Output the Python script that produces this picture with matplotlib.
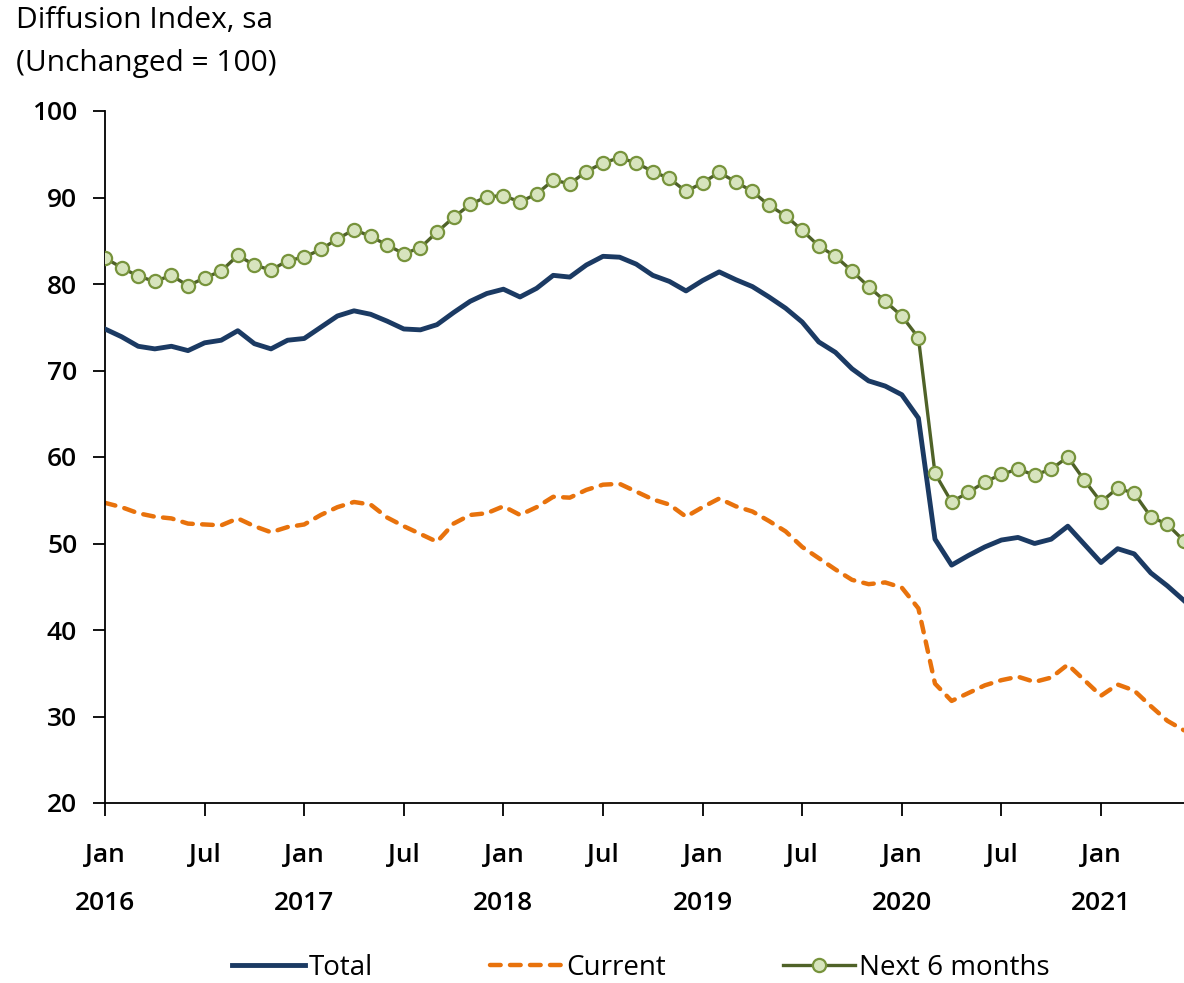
import numpy as np
import matplotlib
matplotlib.use('Agg')
import matplotlib.pyplot as plt

plt.rcParams['font.family'] = ['Open Sans', 'DejaVu Sans']

# месяцы: Jan 2016 .. Jun 2021
months = ['Jan', 'Feb', 'Mar', 'Apr', 'May', 'Jun', 'Jul', 'Aug', 'Sep', 'Oct', 'Nov', 'Dec']
years = [2016, 2017, 2018, 2019, 2020, 2021]

total = [74.8, 73.9, 72.8, 72.5, 72.8, 72.3, 73.2, 73.5, 74.6, 73.1, 72.5, 73.5,
         73.7, 75.0, 76.3, 76.9, 76.5, 75.7, 74.8, 74.7, 75.3, 76.7, 78.0, 78.9,
         79.4, 78.5, 79.5, 81.0, 80.8, 82.2, 83.2, 83.1, 82.3, 81.0, 80.3, 79.2,
         80.4, 81.4, 80.5, 79.7, 78.5, 77.2, 75.6, 73.3, 72.1, 70.2, 68.8, 68.2,
         67.2, 64.5, 50.5, 47.5, 48.6, 49.6, 50.4, 50.7, 50.0, 50.5, 52.0, 49.9,
         47.8, 49.4, 48.8, 46.6, 45.1, 43.4]

current = [54.7, 54.2, 53.5, 53.1, 52.9, 52.3, 52.2, 52.1, 52.9, 52.0, 51.3, 51.9,
           52.2, 53.3, 54.2, 54.8, 54.5, 53.0, 52.0, 51.1, 50.2, 52.3, 53.3, 53.5,
           54.3, 53.3, 54.2, 55.4, 55.3, 56.2, 56.8, 56.9, 56.0, 55.1, 54.5, 53.1,
           54.2, 55.2, 54.3, 53.7, 52.6, 51.4, 49.6, 48.3, 47.0, 45.8, 45.3, 45.5,
           44.9, 42.5, 33.8, 31.8, 32.7, 33.6, 34.2, 34.6, 34.0, 34.5, 36.0, 34.2,
           32.4, 33.7, 33.0, 31.2, 29.5, 28.4]

next6 = [83.0, 81.9, 80.9, 80.3, 81.0, 79.8, 80.7, 81.5, 83.3, 82.2, 81.6, 82.7,
         83.1, 84.0, 85.2, 86.3, 85.5, 84.5, 83.5, 84.2, 86.0, 87.7, 89.2, 90.1,
         90.2, 89.5, 90.4, 92.0, 91.6, 93.0, 94.0, 94.6, 94.0, 93.0, 92.2, 90.7,
         91.7, 92.9, 91.8, 90.7, 89.1, 87.9, 86.2, 84.4, 83.2, 81.5, 79.7, 78.0,
         76.3, 73.8, 58.1, 54.8, 55.9, 57.1, 58.0, 58.6, 57.9, 58.6, 60.0, 57.3,
         54.8, 56.4, 55.8, 53.1, 52.2, 50.3]

x = np.arange(len(total))

tick_pos = np.arange(0, len(total), 6)
tick_lab = []
for p in tick_pos:
    m = months[p % 12]
    if p % 12 == 0:
        tick_lab.append(f'{m}\n{years[p // 12]}')
    else:
        tick_lab.append(f'{m}\n')

fig = plt.figure(figsize=(11.84, 9.83), dpi=100)
ax = fig.add_axes([105 / 1184, 180 / 983, 1079 / 1184, 692 / 983])

ax.plot(x, total, color='#1b3a63', lw=3.5, label='Total', zorder=3)
ax.plot(x, current, color='#e8720c', lw=3.2, dashes=(2.4, 2.1),
        dash_capstyle='round', label='Current', zorder=2)
ax.plot(x, next6, color='#4f6228', lw=2.4, marker='o', markersize=9.5,
        markerfacecolor='#d7e4bd', markeredgecolor='#77933c', markeredgewidth=1.6,
        label='Next 6 months', zorder=4)

ax.set_xlim(0, 65)
ax.set_ylim(20, 100)
ax.set_yticks(np.arange(20, 101, 10))
ax.set_xticks(tick_pos)
ax.set_xticklabels(tick_lab, linespacing=2.2)

for s in ['top', 'right']:
    ax.spines[s].set_visible(False)
for s in ['left', 'bottom']:
    ax.spines[s].set_linewidth(1.3)
    ax.spines[s].set_color('black')

ax.tick_params(axis='y', length=9, width=1.3, labelsize=19, pad=11)
ax.tick_params(axis='x', length=9, width=1.3, labelsize=19, pad=20)
for lab in ax.get_yticklabels() + ax.get_xticklabels():
    lab.set_fontweight('semibold')

fig.text(16 / 1184, 1 - 21 / 983, 'Diffusion Index, sa', fontsize=21.5, va='center', ha='left')
fig.text(16 / 1184, 1 - 63 / 983, '(Unchanged = 100)', fontsize=21.5, va='center', ha='left')

ax.legend(loc='center', bbox_to_anchor=(641 / 1184, 1 - 968 / 983),
          bbox_transform=fig.transFigure, ncol=3, frameon=False, fontsize=20,
          handlelength=2.6, handletextpad=0.15, columnspacing=4.2)

fig.savefig('out.png', dpi=100)
